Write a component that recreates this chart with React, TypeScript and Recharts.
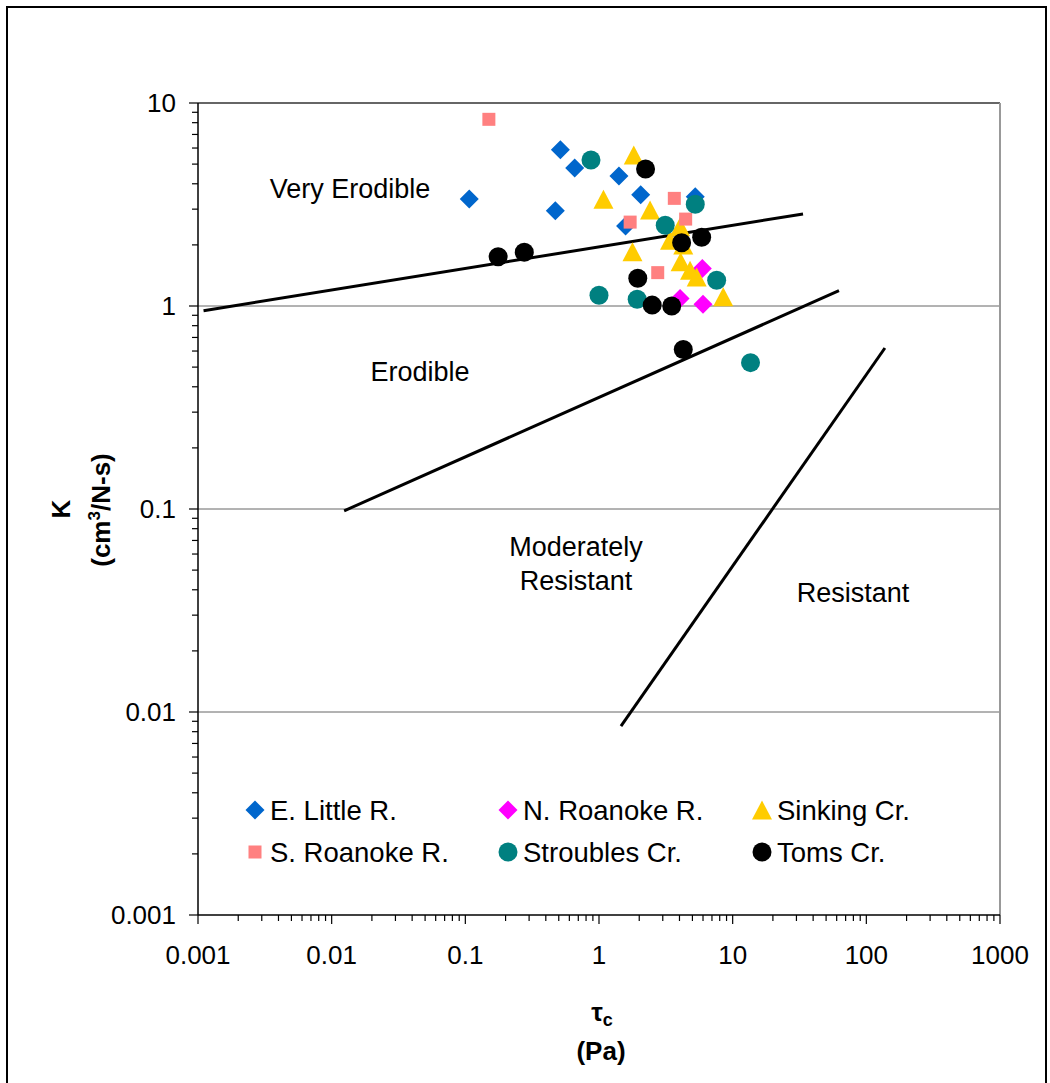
import { ScatterChart, Scatter, XAxis, YAxis, ReferenceLine, Legend } from 'recharts';

// Critical shear stress tau_c (Pa) vs. erodibility coefficient K (cm^3/N-s)
const eLittleR = [
  { tau: 0.107, k: 3.37 },
  { tau: 0.514, k: 5.89 },
  { tau: 0.658, k: 4.78 },
  { tau: 0.471, k: 2.95 },
  { tau: 1.41, k: 4.37 },
  { tau: 2.05, k: 3.53 },
  { tau: 5.25, k: 3.45 },
  { tau: 1.58, k: 2.48 },
];
const nRoanokeR = [
  { tau: 5.93, k: 1.53 },
  { tau: 4.04, k: 1.09 },
  { tau: 6.0, k: 1.02 },
];
const sinkingCr = [
  { tau: 1.82, k: 5.54 },
  { tau: 1.08, k: 3.36 },
  { tau: 2.41, k: 2.97 },
  { tau: 4.04, k: 2.46 },
  { tau: 3.4, k: 2.11 },
  { tau: 4.27, k: 2.0 },
  { tau: 1.78, k: 1.85 },
  { tau: 4.08, k: 1.65 },
  { tau: 4.8, k: 1.5 },
  { tau: 5.38, k: 1.39 },
  { tau: 8.5, k: 1.11 },
];
const sRoanokeR = [
  { tau: 0.15, k: 8.31 },
  { tau: 3.66, k: 3.39 },
  { tau: 4.45, k: 2.68 },
  { tau: 1.71, k: 2.59 },
  { tau: 2.75, k: 1.46 },
];
const stroublesCr = [
  { tau: 0.871, k: 5.24 },
  { tau: 5.25, k: 3.17 },
  { tau: 3.13, k: 2.5 },
  { tau: 7.59, k: 1.34 },
  { tau: 1.0, k: 1.13 },
  { tau: 1.93, k: 1.08 },
  { tau: 13.6, k: 0.526 },
];
const tomsCr = [
  { tau: 0.176, k: 1.75 },
  { tau: 0.276, k: 1.84 },
  { tau: 2.23, k: 4.73 },
  { tau: 4.15, k: 2.05 },
  { tau: 5.86, k: 2.18 },
  { tau: 1.95, k: 1.37 },
  { tau: 2.5, k: 1.01 },
  { tau: 3.5, k: 1.0 },
  { tau: 4.27, k: 0.61 },
];

// class boundaries
const veryErodibleLine = [{ tau: 0.0011, k: 0.948 }, { tau: 33.6, k: 2.84 }];
const erodibleLine = [{ tau: 0.0124, k: 0.098 }, { tau: 62.4, k: 1.19 }];
const resistantLine = [{ tau: 1.46, k: 0.00853 }, { tau: 137.7, k: 0.621 }];

const tauDecades = [0.001, 0.01, 0.1, 1, 10, 100, 1000];
const kDecades = [0.001, 0.01, 0.1, 1, 10];
const minorSteps = [2, 3, 4, 5, 6, 7, 8, 9];
const kGrid = [0.01, 0.1, 1, 10];

const withMinors = (decades: number[]) =>
  [
    ...decades,
    ...decades.slice(0, -1).flatMap((d) => minorSteps.map((m) => +(d * m).toPrecision(3))),
  ].sort((a, b) => a - b);

const tauTicks = withMinors(tauDecades);
const kTicks = withMinors(kDecades);

const series = [
  { name: 'E. Little R.', data: eLittleR, color: '#0066CC', kind: 'diamond' },
  { name: 'N. Roanoke R.', data: nRoanokeR, color: '#FF00FF', kind: 'diamond' },
  { name: 'Sinking Cr.', data: sinkingCr, color: '#FFCC00', kind: 'triangle' },
  { name: 'S. Roanoke R.', data: sRoanokeR, color: '#FF8080', kind: 'square' },
  { name: 'Stroubles Cr.', data: stroublesCr, color: '#008080', kind: 'circle' },
  { name: 'Toms Cr.', data: tomsCr, color: '#000000', kind: 'circle' },
];

const FONT = '"Liberation Sans", Arial, sans-serif';

function isDecade(v: number) {
  const l = Math.log10(v);
  return Math.abs(l - Math.round(l)) < 1e-6;
}

function marker(kind: string, cx: number, cy: number, color: string) {
  switch (kind) {
    case 'diamond':
      return <polygon points={`${cx},${cy - 9.5} ${cx + 9.5},${cy} ${cx},${cy + 9.5} ${cx - 9.5},${cy}`} fill={color} />;
    case 'square':
      return <rect x={cx - 6.5} y={cy - 6.5} width={13} height={13} fill={color} />;
    case 'triangle':
      return <polygon points={`${cx},${cy - 9.5} ${cx + 10},${cy + 9.5} ${cx - 10},${cy + 9.5}`} fill={color} />;
    default:
      return <circle cx={cx} cy={cy} r={9.5} fill={color} />;
  }
}

function XTick({ x, y, payload }: any) {
  const major = isDecade(payload.value);
  return (
    <g>
      <line x1={x} y1={y} x2={x} y2={y + (major ? 9 : 6)} stroke="#000" strokeWidth={1.2} />
      {major && (
        <text x={x} y={y + 49} textAnchor="middle" fontSize={26} fill="#000">
          {String(payload.value)}
        </text>
      )}
    </g>
  );
}

function YTick({ x, y, payload }: any) {
  const major = isDecade(payload.value);
  return (
    <g>
      <line x1={x} y1={y} x2={x - (major ? 9 : 6)} y2={y} stroke="#000" strokeWidth={1.2} />
      {major && (
        <text x={x - 22} y={y + 9} textAnchor="end" fontSize={26} fill="#000">
          {String(payload.value)}
        </text>
      )}
    </g>
  );
}

// legend laid out in series order, three per row
function LegendGrid() {
  return (
    <div
      style={{
        display: 'grid',
        gridTemplateColumns: '253px 254px 253px',
        gridAutoRows: '42px',
        alignItems: 'center',
        fontFamily: FONT,
      }}
    >
      {series.map((s) => (
        <div key={s.name} style={{ display: 'flex', alignItems: 'center' }}>
          <svg width={20} height={20}>{marker(s.kind, 10, 10, s.color)}</svg>
          <span style={{ marginLeft: 5, fontSize: 27.5, lineHeight: '27px', color: '#000' }}>{s.name}</span>
        </div>
      ))}
    </div>
  );
}

export default function App() {
  return (
    <div style={{ position: 'absolute', left: 0, top: 0, width: 1050, height: 1083, background: '#fff', fontFamily: FONT }}>
      <div
        style={{
          position: 'absolute',
          left: 6,
          top: 6,
          width: 1041,
          height: 1077,
          border: '2.5px solid #000',
          borderBottom: 'none',
          boxSizing: 'border-box',
        }}
      />
      <div style={{ position: 'absolute', left: 0, top: 0 }}>
        <ScatterChart width={1050} height={1083} margin={{ top: 103, right: 50, bottom: 0, left: 0 }}>
          <XAxis
            type="number"
            dataKey="tau"
            scale="log"
            domain={[0.001, 1000]}
            ticks={tauTicks}
            interval={0}
            allowDataOverflow
            height={168}
            tickSize={0}
            tickMargin={0}
            tickLine={false}
            tick={<XTick />}
            axisLine={{ stroke: '#000', strokeWidth: 1.5 }}
          />
          <YAxis
            type="number"
            dataKey="k"
            scale="log"
            domain={[0.001, 10]}
            ticks={kTicks}
            interval={0}
            allowDataOverflow
            width={198}
            tickSize={0}
            tickMargin={0}
            tickLine={false}
            tick={<YTick />}
            axisLine={{ stroke: '#000', strokeWidth: 1.5 }}
          />
          {kGrid.map((v) => (
            <ReferenceLine key={v} y={v} stroke="#666" strokeWidth={v === 10 ? 2 : 1} />
          ))}
          <ReferenceLine x={1000} stroke="#999" strokeWidth={2} />
          {[veryErodibleLine, erodibleLine, resistantLine].map((seg, i) => (
            <ReferenceLine
              key={i}
              segment={[
                { x: seg[0].tau, y: seg[0].k },
                { x: seg[1].tau, y: seg[1].k },
              ]}
              stroke="#000"
              strokeWidth={3}
            />
          ))}
          {series.map((s) => (
            <Scatter
              key={s.name}
              name={s.name}
              data={s.data}
              fill={s.color}
              isAnimationActive={false}
              shape={(p: any) => marker(s.kind, p.cx, p.cy, s.color)}
            />
          ))}
          <Legend
            layout="horizontal"
            verticalAlign="middle"
            align="center"
            content={<LegendGrid />}
            wrapperStyle={{ position: 'absolute', left: 245, top: 789, width: 770, height: 84 }}
          />
        </ScatterChart>
      </div>
      <svg
        width={1050}
        height={1083}
        style={{ position: 'absolute', left: 0, top: 0, pointerEvents: 'none' }}
        fontFamily={FONT}
        fontSize={27}
        fill="#000"
      >
        <text x={350} y={198} textAnchor="middle">Very Erodible</text>
        <text x={420} y={381} textAnchor="middle">Erodible</text>
        <text x={576} y={556} textAnchor="middle">Moderately</text>
        <text x={576} y={590} textAnchor="middle">Resistant</text>
        <text x={853} y={602} textAnchor="middle">Resistant</text>

        <g fontWeight="bold" fontSize={26}>
          <text transform="translate(70,509) rotate(-90)" textAnchor="middle">K</text>
          <text transform="translate(110,510) rotate(-90)" textAnchor="middle">
            (cm<tspan dy={-10} fontSize={17}>3</tspan>
            <tspan dy={10}>/N-s)</tspan>
          </text>
          <text x={602} y={1021} textAnchor="middle">
            τ<tspan dy={5} fontSize={18}>c</tspan>
          </text>
          <text x={601} y={1060} textAnchor="middle">(Pa)</text>
        </g>
      </svg>
    </div>
  );
}
